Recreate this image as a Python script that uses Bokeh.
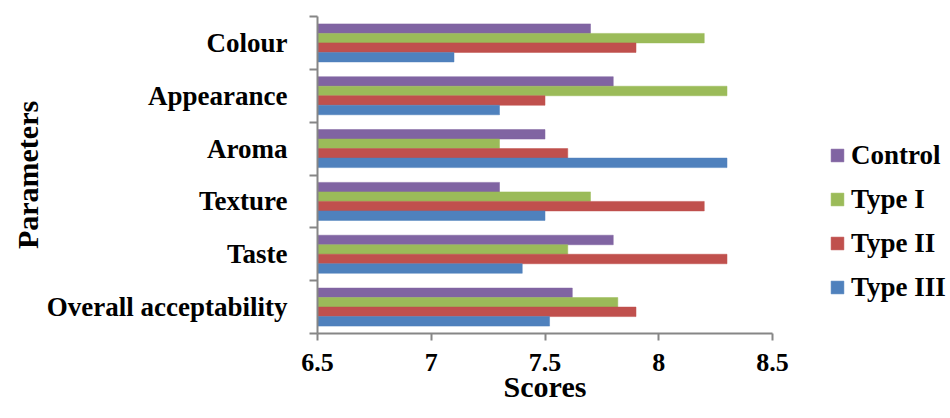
from bokeh.plotting import figure
from bokeh.layouts import row
from bokeh.models import Range1d, FixedTicker, Legend, LegendItem, ColumnDataSource
from bokeh.embed import file_html
from bokeh.resources import INLINE

categories = ["Overall acceptability", "Taste", "Texture", "Aroma", "Appearance", "Colour"]
series_names = ["Control", "Type I", "Type II", "Type III"]
control = [7.62, 7.8, 7.3, 7.5, 7.8, 7.7]
type_1 = [7.82, 7.6, 7.7, 7.3, 8.3, 8.2]
type_2 = [7.9, 8.3, 8.2, 7.6, 7.5, 7.9]
type_3 = [7.52, 7.4, 7.5, 8.3, 7.3, 7.1]
x_ticks = [6.5, 7, 7.5, 8, 8.5]
x_tick_labels = ["6.5", "7", "7.5", "8", "8.5"]

colors = ["#8064A2", "#9BBB59", "#C0504D", "#4F81BD"]
offsets = [0.27, 0.09, -0.09, -0.27]
values = [control, type_1, type_2, type_3]

FONT = "Liberation Serif"

p = figure(width=800, height=418, output_backend="svg", toolbar_location=None,
           x_range=Range1d(6.5, 8.5), y_range=Range1d(0, len(categories)),
           min_border_left=317, min_border_right=28, min_border_top=16, min_border_bottom=85)
p.outline_line_color = None
p.grid.visible = False

# legend panel (separate canvas so the legend is not clipped by the chart frame);
# its proxy renderers reuse the series data but sit outside the visible range
lg = figure(width=150, height=418, output_backend="svg", toolbar_location=None,
            x_range=Range1d(0, 1), y_range=Range1d(100, 101),
            x_axis_location=None, y_axis_location=None, min_border=0)
lg.outline_line_color = None
lg.grid.visible = False

items = []
for name, vals, col, off in zip(series_names, values, colors, offsets):
    src = ColumnDataSource(dict(y=[i + 0.5 + off for i in range(len(categories))],
                                right=vals, left=[6.5] * len(vals)))
    p.hbar(y="y", left="left", right="right", height=0.18, source=src,
           fill_color=col, line_color=col, line_alpha=0.5, line_width=1)
    proxy = lg.hbar(y="y", left="left", right="right", height=0.18, source=src,
                    fill_color=col, line_color=col, line_alpha=0.5, line_width=1)
    items.append(LegendItem(label=name, renderers=[proxy]))

# x axis
xa = p.xaxis[0]
xa.ticker = FixedTicker(ticks=x_ticks)
xa.major_label_overrides = {t: l for t, l in zip(x_ticks, x_tick_labels)}
xa.axis_label = "Scores"
xa.axis_line_color = "#868686"
xa.axis_line_width = 2
xa.major_tick_line_color = "#868686"
xa.major_tick_line_width = 2
xa.major_tick_out = 7
xa.major_tick_in = 0
xa.minor_tick_line_color = None
xa.major_label_text_font = FONT
xa.major_label_text_font_style = "bold"
xa.major_label_text_font_size = "26px"
xa.major_label_text_color = "black"
xa.major_label_standoff = 13
xa.axis_label_text_font = FONT
xa.axis_label_text_font_style = "bold"
xa.axis_label_text_font_size = "30px"
xa.axis_label_text_color = "black"
xa.axis_label_standoff = -4

# y axis
ya = p.yaxis[0]
ya.ticker = FixedTicker(ticks=[i + 0.5 for i in range(len(categories))],
                        minor_ticks=list(range(len(categories) + 1)))
ya.major_label_overrides = {i + 0.5: c for i, c in enumerate(categories)}
ya.axis_label = "Parameters"
ya.axis_line_color = "#868686"
ya.axis_line_width = 2
ya.major_tick_line_color = None
ya.major_tick_out = 0
ya.major_tick_in = 0
ya.minor_tick_line_color = "#868686"
ya.minor_tick_line_width = 2
ya.minor_tick_out = 8
ya.minor_tick_in = 0
ya.major_label_text_font = FONT
ya.major_label_text_font_style = "bold"
ya.major_label_text_font_size = "27px"
ya.major_label_text_color = "black"
ya.major_label_standoff = 22
ya.axis_label_text_font = FONT
ya.axis_label_text_font_style = "bold"
ya.axis_label_text_font_size = "30px"
ya.axis_label_text_color = "black"
ya.axis_label_standoff = 0

legend = Legend(items=items, location=(29, 30))
legend.border_line_color = None
legend.background_fill_alpha = 0
legend.padding = 0
legend.margin = 0
legend.glyph_width = 16
legend.glyph_height = 16
legend.label_standoff = 6
legend.spacing = 12
legend.label_text_font = FONT
legend.label_text_font_style = "bold"
legend.label_text_font_size = "27px"
legend.label_text_color = "black"
legend.label_height = 32
lg.add_layout(legend)

layout = row(p, lg)
open("out.html", "w").write(file_html(layout, INLINE))
